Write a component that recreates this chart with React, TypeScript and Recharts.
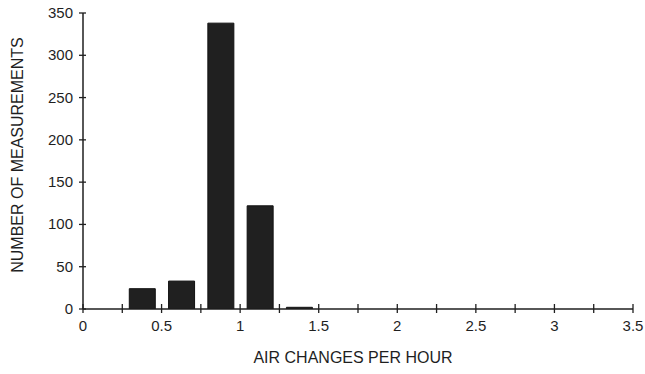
import React from "react";
import { BarChart, Bar, XAxis, YAxis, Label } from "recharts";

const binCenters = [0.375, 0.625, 0.875, 1.125, 1.375];
const counts = [24, 33, 338, 122, 2];
const xTicks = [0, 0.25, 0.5, 0.75, 1, 1.25, 1.5, 1.75, 2, 2.25, 2.5, 2.75, 3, 3.25, 3.5];
const yTicks = [0, 50, 100, 150, 200, 250, 300, 350];
const xTitle = "AIR CHANGES PER HOUR";
const yTitle = "NUMBER OF MEASUREMENTS";

const data = binCenters.map((x, i) => ({ x, count: counts[i] }));

const FONT = "'Liberation Sans', Arial, Helvetica, sans-serif";
const INK = "#1f1f1f";

const XTick = (props: any) => {
  const { x, y, payload } = props;
  const v = payload.value as number;
  const labeled = Math.abs(v * 2 - Math.round(v * 2)) < 1e-6;
  return (
    <g>
      <line x1={x} x2={x} y1={y - 5} y2={y + 4} stroke={INK} strokeWidth={1.3} />
      {labeled && (
        <text x={x} y={y + 22} textAnchor="middle" fontSize={15} fontFamily={FONT} fill={INK}>
          {String(v)}
        </text>
      )}
    </g>
  );
};

const YTick = (props: any) => {
  const { x, y, payload } = props;
  return (
    <g>
      <line x1={x - 4} x2={x + 3} y1={y} y2={y} stroke={INK} strokeWidth={1.3} />
      <text x={x - 10} y={y + 5} textAnchor="end" fontSize={15} fontFamily={FONT} fill={INK}>
        {String(payload.value)}
      </text>
    </g>
  );
};

const YTitle = (props: any) => {
  const vb = props.viewBox;
  const cx = vb.x + 17;
  const cy = vb.y + vb.height / 2 - 6;
  return (
    <text
      x={cx}
      y={cy}
      transform={`rotate(-90 ${cx} ${cy})`}
      textAnchor="middle"
      dominantBaseline="central"
      fontSize={16}
      fontFamily={FONT}
      fill={INK}
    >
      {yTitle}
    </text>
  );
};

const XTitle = (props: any) => {
  const vb = props.viewBox;
  return (
    <text
      x={vb.x + vb.width / 2 - 5}
      y={vb.y + 54}
      textAnchor="middle"
      fontSize={16}
      fontFamily={FONT}
      fill={INK}
    >
      {xTitle}
    </text>
  );
};

export default function App() {
  return (
    <div style={{ position: "absolute", left: 0, top: 0, background: "#fff" }}>
      <BarChart
        width={645}
        height={374}
        data={data}
        margin={{ top: 13, right: 12, bottom: 0, left: 0 }}
      >
        <XAxis
          dataKey="x"
          type="number"
          domain={[0, 3.5]}
          ticks={xTicks}
          interval={0}
          height={65}
          tickSize={0}
          tickMargin={0}
          tickLine={false}
          tick={<XTick />}
          axisLine={{ stroke: INK, strokeWidth: 1.5 }}
          allowDataOverflow
        >
          <Label content={<XTitle />} />
        </XAxis>
        <YAxis
          type="number"
          domain={[0, 350]}
          ticks={yTicks}
          interval={0}
          width={83}
          tickSize={0}
          tickMargin={0}
          tickLine={false}
          tick={<YTick />}
          axisLine={{ stroke: INK, strokeWidth: 1.5 }}
          allowDataOverflow
        >
          <Label content={<YTitle />} />
        </YAxis>
        <Bar
          dataKey="count"
          fill="#202020"
          stroke="#111"
          strokeWidth={1}
          barSize={26}
          isAnimationActive={false}
        />
      </BarChart>
    </div>
  );
}
